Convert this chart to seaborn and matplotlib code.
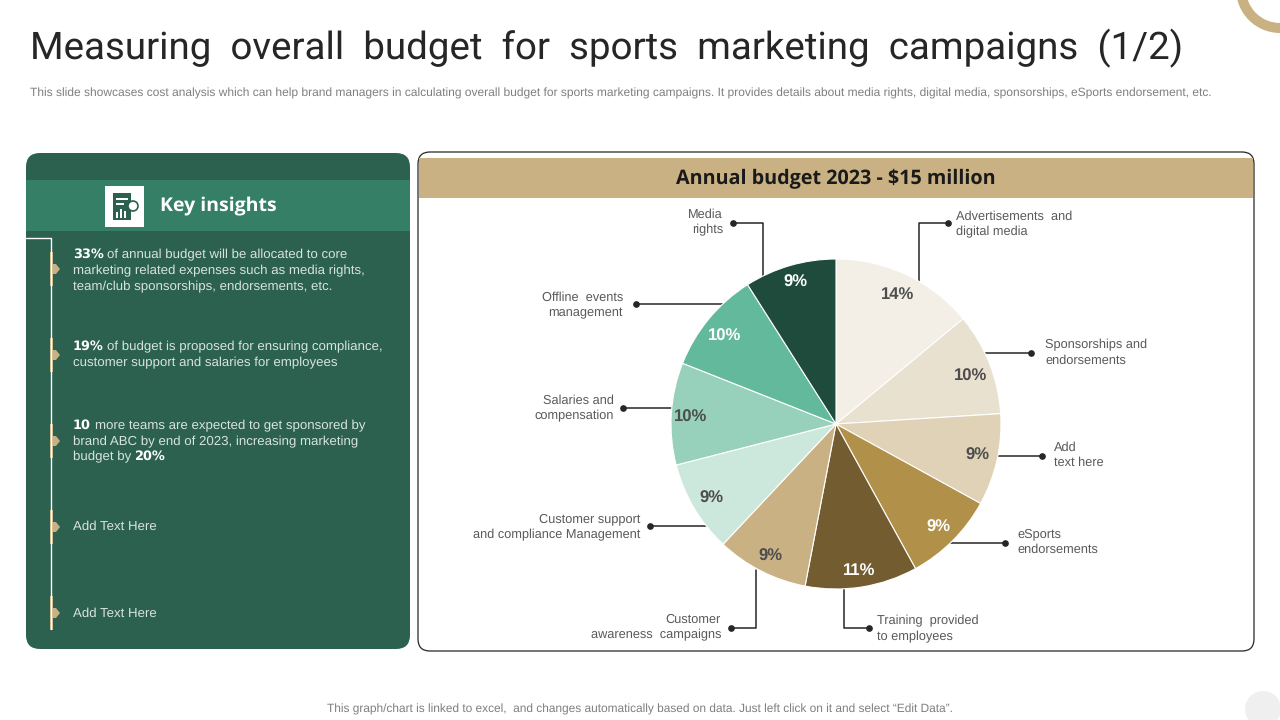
# coding=utf-8
import seaborn as sns
import matplotlib.pylab as plt
from matplotlib.patches import FancyBboxPatch, Rectangle, Circle, Wedge, Polygon
#-----------------------------
categories = ["Advertisements  and\ndigital media", "Sponsorships and\nendorsements", "Add\ntext here",
              "eSports\nendorsements", "Training  provided\nto employees", "Customer\nawareness  campaigns",
              "Customer support\nand compliance Management", "Salaries and\ncompensation",
              "Offline  events\nmanagement", "Media\nrights"]
shares = [14, 10, 9, 9, 11, 9, 9, 10, 10, 9]
slice_colors = ["#F3EFE7", "#E9E1D0", "#DFD2B6", "#B19149", "#735C30",
                "#C9B183", "#CCE8DC", "#97D1BB", "#62B99C", "#1F4B3D"]
pct_colors = ["#4D4D4D", "#4D4D4D", "#4D4D4D", "white", "white",
              "#4D4D4D", "#4D4D4D", "#4D4D4D", "white", "white"]
pct_nudge = [2, 6, 0, 1, 3, 3, 1, 3, 5, -2]  # pixels down
title = "Measuring  overall  budget  for  sports  marketing  campaigns  (1/2)"
subtitle = ("This slide showcases cost analysis which can help brand managers in calculating overall budget for "
            "sports marketing campaigns. It provides details about media rights, digital media, sponsorships, "
            "eSports endorsement, etc.")
footer = "This graph/chart is linked to excel,  and changes automatically based on data. Just left click on it and select \u201cEdit Data\u201d."
pie_title = "Annual budget 2023 - $15 million"
panel_title = "Key insights"
#-----------------------------
green = "#2C614F"
band = "#357F66"
tan = "#C9B183"
grey = "#595959"
body = "Liberation Sans"
#-----------------------------
sns.set_theme(style="white")
plt.rcParams["text.hinting"] = "no_hinting"  # widths scale evenly with size
fig = plt.figure(figsize=(12.8, 7.2), dpi=100)
bg = fig.add_axes([0, 0, 1, 1])
bg.set_xlim(0, 1280)
bg.set_ylim(720, 0)
bg.axis("off")

def panel(x0, y0, x1, y1, fc, ec, rad=14):
    # rounded box in pixel coordinates
    bg.add_patch(FancyBboxPatch((x0+rad, y0+rad), x1-x0-2*rad, y1-y0-2*rad,
                                boxstyle="round,pad={},rounding_size={}".format(rad, rad),
                                fc=fc, ec=ec, lw=0.9))

def leader(points):
    # first point is the dot at the label end
    xs = [p[0] for p in points]
    ys = [p[1] for p in points]
    bg.plot(xs, ys, color="#262626", lw=1.1, zorder=5)
    bg.plot(xs[0], ys[0], "o", color="#262626", ms=3.8, zorder=5)
#-----------------------------
# header
bg.text(30, 48, title, fontsize=27.7, family="Roboto", color="#262626", va="center")
bg.text(30, 93, subtitle, fontsize=8.64, family=body, color="#7F7F7F", va="center")
bg.text(640, 709, footer, fontsize=8.55, family=body, color="#7F7F7F", va="center", ha="center")
bg.add_patch(Wedge((1280, -11), 44, 0, 360, width=10, fc=tan, ec="none"))
bg.add_patch(Circle((1263, 709), 18, fc="#EFEFEF", ec="none"))
#-----------------------------
# left panel
panel(26, 153, 410, 649, green, "none")
bg.add_patch(Rectangle((26, 180), 384, 51, fc=band, ec="none"))
bg.add_patch(Rectangle((105, 186), 39, 41, fc="white", ec="none"))
bg.add_patch(Rectangle((113, 193), 18, 27, fc=green, ec="none"))
bg.add_patch(Rectangle((116, 198), 12, 2, fc="white", ec="none"))
bg.add_patch(Rectangle((116, 203), 8, 1.5, fc="white", ec="none"))
bg.add_patch(Rectangle((116, 212), 2, 6, fc="white", ec="none"))
bg.add_patch(Rectangle((120, 209), 2, 9, fc="white", ec="none"))
bg.add_patch(Rectangle((124, 211), 2, 7, fc="white", ec="none"))
bg.add_patch(Circle((133, 206), 5, fc="white", ec=green, lw=1.2))
bg.text(160, 206, panel_title, fontsize=14, family="Open Sans", weight="bold", color="white", va="center")
bg.plot([26, 51, 51], [238, 238, 629], color="white", lw=1)
for y in [269, 355, 441, 527, 613]:
    bg.add_patch(Rectangle((50, y-17), 3, 34, fc=tan, ec="none"))
    bg.add_patch(Polygon([(53, y-5), (56, y-5), (60, y), (56, y+5), (53, y+5)], fc=tan, ec="none"))
insights = [
    (73, 254, "33%", 107, "of annual budget will be allocated to core"),
    (73, 346, "19%", 107, "of budget is proposed for ensuring compliance,"),
    (73, 425, "10", 95, "more teams are expected to get sponsored by"),
]
for x, y, strong, xnext, rest in insights:
    bg.text(x, y, strong, fontsize=9.3, family="DejaVu Sans", weight="bold", color="white", va="center")
    bg.text(xnext, y+1, rest, fontsize=9.5, family=body, color="#D8E3DE", va="center")
plain = [(73, 271, "marketing related expenses such as media rights,"),
         (73, 287, "team/club sponsorships, endorsements, etc."),
         (73, 363, "customer support and salaries for employees"),
         (73, 442, "brand ABC by end of 2023, increasing marketing"),
         (73, 457, "budget by"),
         (73, 527, "Add Text Here"),
         (73, 614, "Add Text Here")]
for x, y, s in plain:
    bg.text(x, y, s, fontsize=9.5, family=body, color="#D8E3DE", va="center")
bg.text(135, 456, "20%", fontsize=9.3, family="DejaVu Sans", weight="bold", color="white", va="center")
#-----------------------------
# right panel
panel(418, 152, 1254, 651, "white", "#262626", rad=12)
bg.add_patch(Rectangle((419, 158), 834, 40, fc=tan, ec="none"))
bg.text(836, 179, pie_title, fontsize=14.2, family="Open Sans", weight="bold", color="#1A1A1A", va="center", ha="center")
#-----------------------------
# pie goes on its own axes, box is exactly the circle
ax = fig.add_axes([(836-165)/1280, 1-(424+165)/720, 330/1280, 330/720])
wedges, texts, pcts = ax.pie(shares, colors=sns.color_palette(slice_colors, len(slice_colors)), startangle=90,
                             counterclock=False, radius=1, autopct="%d%%", pctdistance=0.88,
                             wedgeprops={"edgecolor": "white", "linewidth": 0.8})
for t, c, n in zip(pcts, pct_colors, pct_nudge):
    t.set_color(c)
    t.set_fontsize(12)
    t.set_fontweight("bold")
    t.set_family("Liberation Sans")
    t.set_y(t.get_position()[1] - n/165)
ax.set_xlim(-1, 1)
ax.set_ylim(-1, 1)
#-----------------------------
# leader lines and their labels
lines = [[(948, 223), (919, 223), (919, 282)], [(1031, 353), (985, 353)], [(1042, 456), (998, 456)],
         [(1005, 543), (950, 543)], [(869, 628), (844, 628), (844, 589)], [(731, 628), (756, 628), (756, 570)],
         [(650, 526), (707, 526)], [(623, 408), (672, 408)], [(636, 304), (724, 304)], [(733, 223), (763, 223), (763, 278)]]
spots = [(956, 224, "left"), (1045, 353, "left"), (1054, 455, "left"), (1017, 542, "left"), (877, 629, "left"),
         (721, 627, "right"), (640, 527, "right"), (614, 408, "right"), (623, 305, "right"), (723, 222, "right")]
for pts in lines:
    leader(pts)
for (x, y, ha), s in zip(spots, categories):
    bg.text(x, y, s, fontsize=9.2, family=body, color=grey, va="center", ha=ha, linespacing=1.36)
#-----------------------------
fig.savefig("out.png", dpi=100)
